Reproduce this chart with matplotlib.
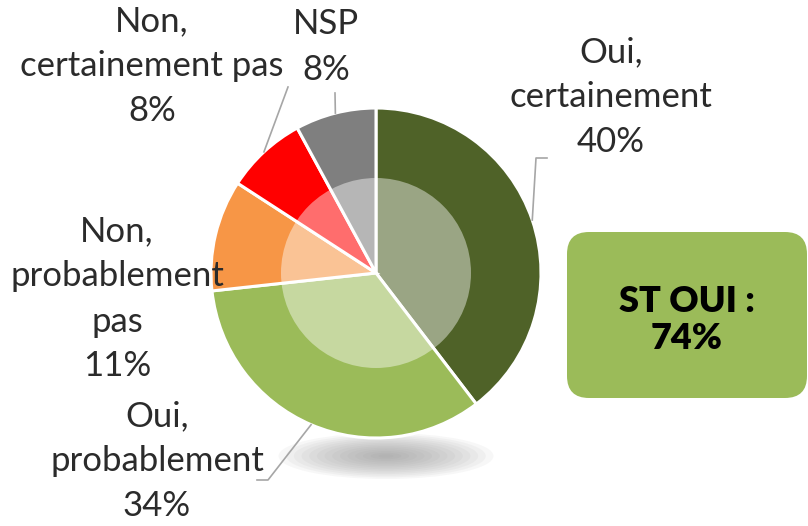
import matplotlib.pyplot as plt
import numpy as np
from matplotlib.patches import Circle, Ellipse, FancyBboxPatch

answers = ['Oui,\ncertainement', 'Oui,\nprobablement', 'Non,\nprobablement\npas',
           'Non,\ncertainement pas', 'NSP']
shares = [40, 34, 11, 8, 8]
colors = ['#4F6228', '#9BBB59', '#F79646', '#FF0000', '#7F7F7F']
total_yes = 74

W, H = 808, 526
CX, CY, R = 376, 273, 165   # pie centre / radius in pixels from top-left
R_IN = 95


def py(y):
    # pixel-from-top -> data y
    return H - y


plt.rcParams['font.family'] = ['Lato', 'DejaVu Sans']
TXT = '#2b2b2b'

fig = plt.figure(figsize=(W / 100, H / 100), dpi=100)
ax = fig.add_axes([0, 0, 1, 1])

# soft shadow under the pie
for i in range(14):
    k = 1 - i / 14
    ax.add_patch(Ellipse((386, py(456)), 215 * k, 46 * k, facecolor='#8a8a8a',
                         edgecolor='none', alpha=0.065, zorder=1))

wedges, _ = ax.pie(shares, colors=colors, startangle=90, counterclock=False,
                   center=(CX, py(CY)), radius=R,
                   wedgeprops=dict(edgecolor='white', linewidth=2.2))
for w in wedges:
    w.set_zorder(2)

# lighter inner disc
ax.add_patch(Circle((CX, py(CY)), R_IN, facecolor='white', edgecolor='none',
                    alpha=0.43, zorder=3))

# labels: centre of each text block (pixels)
label_pos = [(611, 97), (157, 461), (117, 299), (152, 66), (326, 47)]
# leader lines: elbow points (pixels), None = no leader
leader_pts = [[(536, 158), (547, 158)],
              [(268, 480), (257, 480)],
              None,
              [(288, 87)],
              [(335, 93)]]

frac = np.array(shares) / sum(shares)
mids = 90 - 360 * (np.cumsum(frac) - frac / 2)
for name, s, (lx, ly), pts, ang in zip(answers, shares, label_pos, leader_pts, mids):
    ax.text(lx, py(ly), f'{name}\n{s}%', ha='center', va='center', fontsize=25,
            color=TXT, linespacing=1.5, zorder=6)
    if pts is None:
        continue
    a = np.deg2rad(ang)
    xs = [CX + R * np.cos(a)] + [p[0] for p in pts]
    ys = [py(CY) + R * np.sin(a)] + [py(p[1]) for p in pts]
    ax.plot(xs, ys, color='#a6a6a6', lw=1.2, zorder=5)

# summary box
ax.add_patch(FancyBboxPatch((567, py(398)), 240, 166,
                            boxstyle='round,pad=0,rounding_size=22',
                            facecolor='#9BBB59', edgecolor='none', zorder=2))
ax.text(687, py(320), f'ST OUI :\n{total_yes}%', ha='center', va='center',
        fontsize=26, fontweight='heavy', color='black', linespacing=1.15, zorder=6)

ax.set_xlim(0, W)
ax.set_ylim(0, H)
ax.set_aspect('equal')
ax.axis('off')

fig.savefig('out.png', dpi=100)
